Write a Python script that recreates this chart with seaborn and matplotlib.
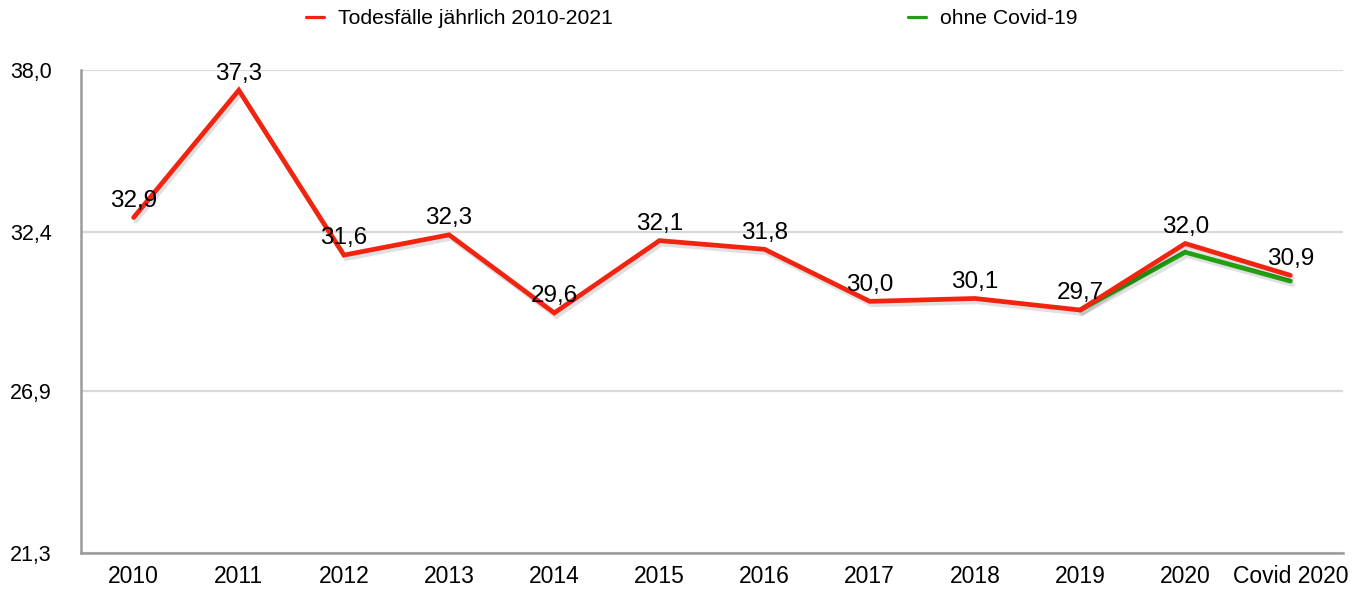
import matplotlib
matplotlib.use("Agg")
import matplotlib.pyplot as plt
import matplotlib.patheffects as pe
import seaborn as sns
import pandas as pd

# data
years = ["2010", "2011", "2012", "2013", "2014", "2015", "2016",
         "2017", "2018", "2019", "2020", "Covid 2020"]
deaths = [32.9, 37.3, 31.6, 32.3, 29.6, 32.1, 31.8, 30.0, 30.1, 29.7, 32.0, 30.9]
labels = ["32,9", "37,3", "31,6", "32,3", "29,6", "32,1", "31,8",
          "30,0", "30,1", "29,7", "32,0", "30,9"]

no_covid_years = ["2019", "2020", "Covid 2020"]
no_covid = [29.7, 31.7, 30.7]

y_ticks = [21.3, 26.9, 32.4, 38.0]
y_tick_labels = ["21,3", "26,9", "32,4", "38,0"]

red = "#f2230f"
green = "#22a012"

sns.set_theme(style="white")
plt.rcParams["font.family"] = ["Liberation Sans", "DejaVu Sans"]
plt.rcParams["text.color"] = "black"

df = pd.DataFrame({"jahr": years, "wert": deaths})
df2 = pd.DataFrame({"jahr": no_covid_years, "wert": no_covid})

fig = plt.figure(figsize=(13.67, 5.92), dpi=100)
ax = fig.add_axes([0.0593, 0.0659, 0.9231, 0.8159])

shadow = [pe.SimpleLineShadow(offset=(1.5, -2.5), shadow_color="black", alpha=0.12), pe.Normal()]

sns.lineplot(data=df, x="jahr", y="wert", sort=False, color=red, lw=3.4,
             ax=ax, zorder=3, label="Todesfälle jährlich 2010-2021")
sns.lineplot(data=df2, x="jahr", y="wert", sort=False, color=green, lw=3.4,
             ax=ax, zorder=2, label="ohne Covid-19")
for ln in ax.lines:
    ln.set_path_effects(shadow)
    ln.set_solid_joinstyle("miter")

for i, (v, t) in enumerate(zip(deaths, labels)):
    ax.annotate(t, (i, v), xytext=(0, 12), textcoords="offset points",
                ha="center", va="center", fontsize=17.5, color="black", zorder=5)

ax.set_xlim(-0.5, len(years) - 0.5)
ax.set_ylim(21.3, 38.0)
ax.set_yticks(y_ticks)
ax.set_yticklabels(y_tick_labels)
ax.yaxis.grid(True, color="#d9d9d9", lw=1.6)
ax.set_axisbelow(True)
ax.set_xlabel("")
ax.set_ylabel("")
ax.tick_params(axis="y", length=0, labelsize=15.5, labelcolor="black")
ax.tick_params(axis="x", length=0, pad=9, labelsize=16.5, labelcolor="black")
for lab in ax.get_yticklabels():
    lab.set_horizontalalignment("left")
ax.yaxis.set_tick_params(pad=51)

for s in ["top", "right"]:
    ax.spines[s].set_visible(False)
for s in ["left", "bottom"]:
    ax.spines[s].set_color("#9a9a9a")
    ax.spines[s].set_linewidth(1.8)

ax.get_legend().remove()
h, l = ax.get_legend_handles_labels()
leg = fig.legend(h, l, loc="center", bbox_to_anchor=(0.506, 0.968), ncol=2,
                 frameon=False, fontsize=15.2, handlelength=0.85, handletextpad=0.65,
                 columnspacing=14, labelcolor="black")
for lh in leg.get_lines():
    lh.set_linewidth(2.3)
    lh.set_path_effects([])

fig.savefig("out.png", dpi=100)
